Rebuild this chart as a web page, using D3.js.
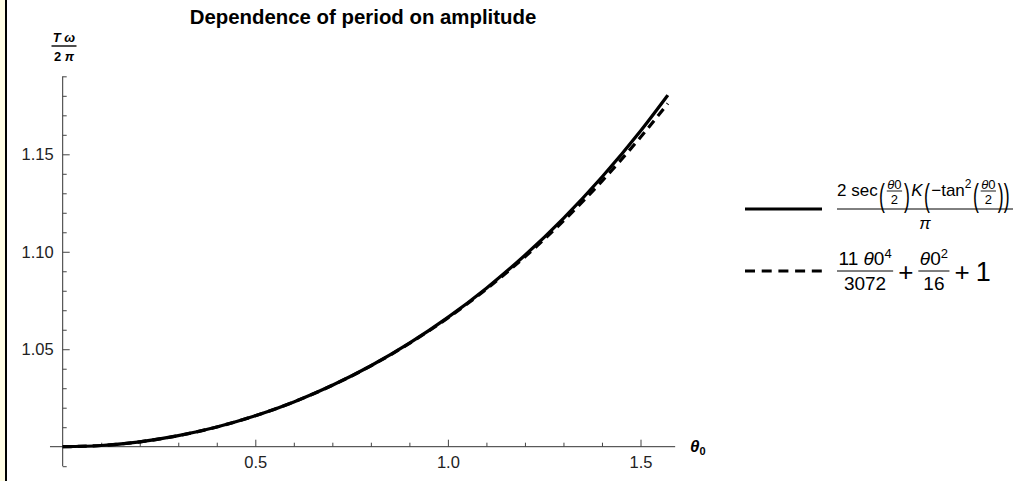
<!DOCTYPE html>
<html>
<head>
<meta charset="utf-8">
<script src="https://cdn.jsdelivr.net/npm/d3@7"></script>
<style>
  body { margin: 0; background: #fff; }
  svg { display: block; }
  text { font-family: "Liberation Sans", Arial, sans-serif; }
</style>
</head>
<body>
<div id="chart"></div>
<script>
// amplitude theta0 (rad) and the two period ratios
const thetaValues  = [0, 0.1, 0.2, 0.3, 0.4, 0.5, 0.6, 0.7, 0.8, 0.9, 1.0, 1.1, 1.2, 1.3, 1.4, 1.5, 1.5708];
const exactPeriod  = [1, 1.000625, 1.002506, 1.005654, 1.010093, 1.015852, 1.022975, 1.031513, 1.041531,
                      1.053107, 1.066334, 1.081324, 1.098210, 1.117148, 1.138325, 1.161967, 1.180341];
const seriesPeriod = [1, 1.000625, 1.002506, 1.005654, 1.010092, 1.015849, 1.022964, 1.031485, 1.041467,
                      1.052974, 1.066081, 1.080868, 1.097425, 1.115852, 1.136256, 1.158752, 1.176013];

const xMajorTicks = [0.5, 1.0, 1.5];
const xMinorTicks = [0.1, 0.2, 0.3, 0.4, 0.6, 0.7, 0.8, 0.9, 1.1, 1.2, 1.3, 1.4];
const yMajorTicks = [1.05, 1.10, 1.15];
const yMinorTicks = [0.99, 1.01, 1.02, 1.03, 1.04, 1.06, 1.07, 1.08, 1.09, 1.11, 1.12, 1.13, 1.14,
                     1.16, 1.17, 1.18, 1.19];
const titleText = "Dependence of period on amplitude";

var config = {};
config.svg = { width: 1013, height: 481 };
config.font = '"Liberation Sans", Arial, sans-serif';

var svg = d3.select("#chart").append("svg")
    .attr("width", config.svg.width)
    .attr("height", config.svg.height);

// pale strip + black rule at the left edge
svg.append("rect").attr("x", 0).attr("y", 0).attr("width", 6).attr("height", 481).attr("fill", "#fffde4");
svg.append("rect").attr("x", 5).attr("y", 0).attr("width", 2).attr("height", 481).attr("fill", "#000");

var x = d3.scaleLinear().domain([0, 1.6]).range([62.7, 62.7 + 1.6 * 385.2]);
var y = d3.scaleLinear().domain([1.0, 1.15]).range([446.7, 154.3]);

var translate = (a, b) => "translate(" + a + "," + b + ")";

// axis lines
svg.append("line")
    .attr("x1", x(0)).attr("x2", x(0))
    .attr("y1", y(0.99)).attr("y2", y(1.19))
    .attr("stroke", "#333").attr("stroke-width", 1);
svg.append("line")
    .attr("x1", x(-0.033)).attr("x2", x(1.59))
    .attr("y1", y(1)).attr("y2", y(1))
    .attr("stroke", "#333").attr("stroke-width", 1);

// ticks, pointing into the plot
var tickAxis = function (axis, pos) {
    var g = svg.append("g").attr("transform", pos).call(axis);
    g.select(".domain").remove();
    g.selectAll(".tick line").attr("stroke", "#444");
    return g;
};
tickAxis(d3.axisRight(y).tickValues(yMajorTicks).tickSize(7).tickFormat(""), translate(x(0), 0));
tickAxis(d3.axisRight(y).tickValues(yMinorTicks).tickSize(4).tickFormat(""), translate(x(0), 0));
tickAxis(d3.axisTop(x).tickValues(xMajorTicks).tickSize(7).tickFormat(""), translate(0, y(1)));
tickAxis(d3.axisTop(x).tickValues(xMinorTicks).tickSize(4).tickFormat(""), translate(0, y(1)));

// tick labels
var yLabels = svg.append("g").attr("transform", translate(x(0), 0))
    .call(d3.axisLeft(y).tickValues(yMajorTicks).tickSize(0).tickPadding(9).tickFormat(d3.format(".2f")));
yLabels.select(".domain").remove();
yLabels.selectAll("text").attr("font-size", 16.5).attr("font-family", config.font).attr("fill", "#222");

var xLabels = svg.append("g").attr("transform", translate(0, y(1)))
    .call(d3.axisBottom(x).tickValues(xMajorTicks).tickSize(0).tickPadding(10).tickFormat(d3.format(".1f")));
xLabels.select(".domain").remove();
xLabels.selectAll("text").attr("font-size", 16.5).attr("font-family", config.font).attr("fill", "#222");

// curves
var line = d3.line().x(d => x(d[0])).y(d => y(d[1])).curve(d3.curveMonotoneX);
svg.append("path")
    .datum(thetaValues.map((t, i) => [t, exactPeriod[i]]))
    .attr("d", line).attr("fill", "none").attr("stroke", "#000").attr("stroke-width", 3.2);
svg.append("path")
    .datum(thetaValues.map((t, i) => [t, seriesPeriod[i]]))
    .attr("d", line).attr("fill", "none").attr("stroke", "#000").attr("stroke-width", 3.2)
    .attr("stroke-dasharray", "9,6");

// title
svg.append("text")
    .attr("x", 363).attr("y", 24)
    .attr("text-anchor", "middle")
    .attr("font-size", 20.4).attr("font-weight", "bold")
    .text(titleText);

// axis titles
var yTitle = svg.append("g").attr("transform", translate(64, 0));
var yNum = yTitle.append("text").attr("x", 0).attr("y", 42).attr("text-anchor", "middle")
    .attr("font-size", 13).attr("font-weight", "bold").attr("font-style", "italic");
yNum.append("tspan").text("T ω");
yTitle.append("line").attr("x1", -12.5).attr("x2", 12.5).attr("y1", 46).attr("y2", 46)
    .attr("stroke", "#000").attr("stroke-width", 1.4);
var yDen = yTitle.append("text").attr("x", 0).attr("y", 61).attr("text-anchor", "middle")
    .attr("font-size", 13).attr("font-weight", "bold");
yDen.append("tspan").text("2 ");
yDen.append("tspan").attr("font-style", "italic").text("π");

var xTitle = svg.append("text").attr("x", 690).attr("y", 452)
    .attr("font-size", 17).attr("font-weight", "bold");
xTitle.append("tspan").attr("font-style", "italic").text("θ");
xTitle.append("tspan").attr("font-size", 11).attr("dy", 3).text("0");

// legend
var legend = svg.append("g").attr("id", "legend");
legend.append("line").attr("x1", 745).attr("x2", 822).attr("y1", 209).attr("y2", 209)
    .attr("stroke", "#000").attr("stroke-width", 3);
legend.append("line").attr("x1", 745).attr("x2", 822).attr("y1", 271).attr("y2", 271)
    .attr("stroke", "#000").attr("stroke-width", 3).attr("stroke-dasharray", "10,6.7");

var put = function (g, px, py, str, size, italic) {
    var t = g.append("text").attr("x", px).attr("y", py).attr("font-size", size).text(str);
    if (italic) t.attr("font-style", "italic");
    return t.node().getComputedTextLength();
};
var thetaZero = function (g, px, py, size) {
    var t = g.append("text").attr("x", px).attr("y", py).attr("font-size", size);
    t.append("tspan").attr("font-style", "italic").text("θ");
    t.append("tspan").text("0");
    return t;
};
var paren = function (g, px, ch) {
    var t = g.append("text").attr("font-size", 32)
        .attr("transform", translate(px, 205.5) + " scale(0.55,1)").text(ch);
    return t.node().getComputedTextLength() * 0.55;
};
var smallFrac = function (g, px, barY, size) {
    var num = thetaZero(g, 0, barY - 2.5, size).attr("text-anchor", "middle");
    var w = num.node().getComputedTextLength() + 2;
    num.attr("x", px + w / 2);
    g.append("text").attr("x", px + w / 2).attr("y", barY + size * 0.98)
        .attr("text-anchor", "middle").attr("font-size", size).text("2");
    g.append("line").attr("x1", px + 0.5).attr("x2", px + w - 0.5).attr("y1", barY).attr("y2", barY)
        .attr("stroke", "#000").attr("stroke-width", 0.9);
    return w;
};

// first entry: 2 sec(θ0/2) K(−tan²(θ0/2)) / π, laid out twice so the pieces fill the bar width
var buildNumerator = function (gap) {
    var g = legend.append("g");
    var cx = 837;
    cx += put(g, cx, 196, "2 sec", 17) + gap;
    cx += paren(g, cx, "(") + gap;
    cx += smallFrac(g, cx, 191, 13) + gap;
    cx += paren(g, cx, ")") + gap;
    cx += put(g, cx, 196, "K", 17, true) + gap;
    cx += paren(g, cx, "(") + gap;
    cx += put(g, cx, 196, "−tan", 17);
    cx += put(g, cx, 188, "2", 12) + gap;
    cx += paren(g, cx, "(") + gap;
    cx += smallFrac(g, cx, 191, 13) + gap;
    cx += paren(g, cx, ")");
    cx += paren(g, cx, ")");
    return { g: g, end: cx };
};
var trial = buildNumerator(0);
var spare = Math.max(0, (1011 - trial.end) / 10);
trial.g.remove();
buildNumerator(spare);
legend.append("line").attr("x1", 837).attr("x2", 1013).attr("y1", 209).attr("y2", 209)
    .attr("stroke", "#000").attr("stroke-width", 1);
legend.append("text").attr("x", 925).attr("y", 229).attr("text-anchor", "middle")
    .attr("font-size", 17).attr("font-style", "italic").text("π");

// second entry: 11 θ0⁴/3072 + θ0²/16 + 1
var f2 = legend.append("g");
var bigFrac = function (g, px, numParts, den) {
    var num = g.append("text").attr("y", 265).attr("font-size", 19).attr("text-anchor", "middle");
    numParts.forEach(p => {
        var s = num.append("tspan").text(p.t);
        if (p.i) s.attr("font-style", "italic");
        if (p.sup) s.attr("font-size", 13).attr("dy", -7);
    });
    var d = g.append("text").attr("y", 290).attr("font-size", 19).attr("text-anchor", "middle").text(den);
    var w = Math.max(num.node().getComputedTextLength(), d.node().getComputedTextLength()) + 3;
    num.attr("x", px + w / 2);
    d.attr("x", px + w / 2);
    g.append("line").attr("x1", px).attr("x2", px + w).attr("y1", 271).attr("y2", 271)
        .attr("stroke", "#000").attr("stroke-width", 1);
    return w;
};
var cx2 = 837;
cx2 += bigFrac(f2, cx2, [{ t: "11 " }, { t: "θ", i: true }, { t: "0" }, { t: "4", sup: true }], "3072");
cx2 += 5;
cx2 += put(f2, cx2, 280.5, "+", 26) + 5;
cx2 += bigFrac(f2, cx2, [{ t: "θ", i: true }, { t: "0" }, { t: "2", sup: true }], "16");
cx2 += 5;
cx2 += put(f2, cx2, 280.5, "+", 26) + 6;
put(f2, cx2, 281, "1", 27);
</script>
</body>
</html>
